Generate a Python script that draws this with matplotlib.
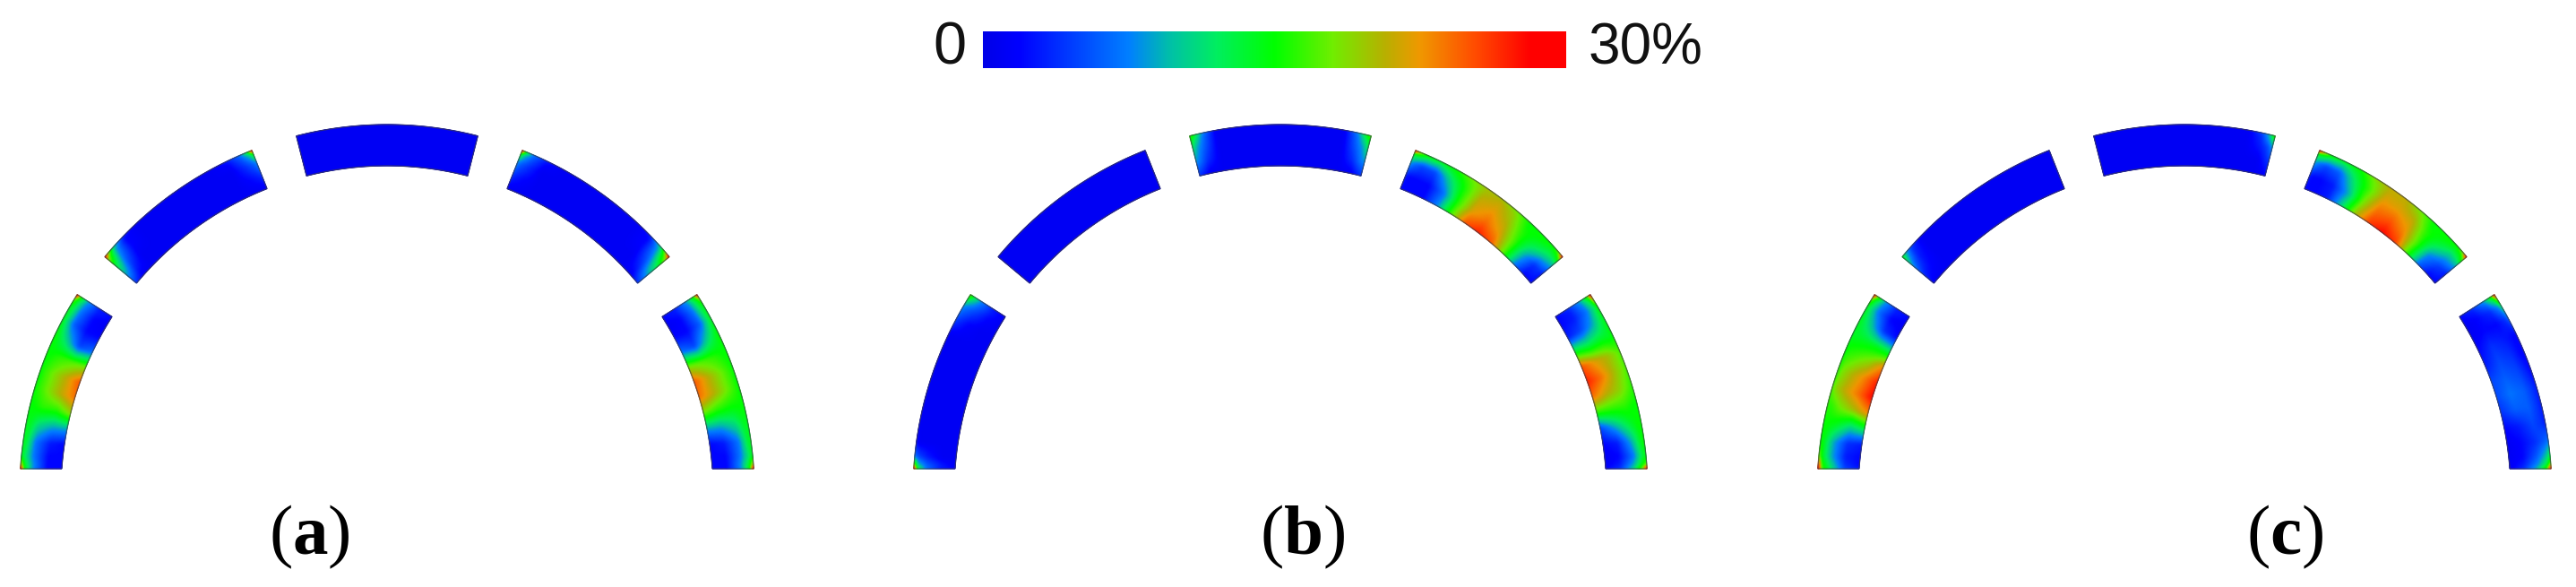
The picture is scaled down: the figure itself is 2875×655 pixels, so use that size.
import numpy as np
import matplotlib
matplotlib.use("Agg")
import matplotlib.pyplot as plt
from matplotlib.colors import LinearSegmentedColormap

plt.rcParams['mathtext.fontset'] = 'custom'
plt.rcParams['mathtext.bf'] = 'Liberation Serif:bold'
plt.rcParams['mathtext.rm'] = 'Liberation Serif'

# ---- data: strain (%) sampled along each arch segment -------------------
panel_labels = ["(a)", "(b)", "(c)"]
strain_min, strain_max = 0, 30
colorbar_labels = ["0", "30%"]

# sample positions: along the segment (left to right); each row of a table is one
# such position, its five values going across the segment from inner to outer
u_nodes = [0, .025, .07, .15, .25, .35, .45, .55, .65, .75, .85, .93, .975, 1]
v_nodes = [0, .35, .7, .92, 1]
B = [1, 1, 1, 1, 1]

a1 = [[2, 2, 8, 15, 30], [2, 2, 8, 14, 20], [2, 2, 7, 12, 14], [2, 3, 7, 13, 14],
      [9, 9, 11, 14, 14], [19, 16, 16, 15, 15], [24, 21, 18, 16, 15], [25, 21, 18, 16, 15],
      [18, 17, 16, 15, 15], [7, 5, 11, 14, 15], [2, 2, 6, 12, 14], [1, 2, 7, 13, 14],
      [2, 3, 8, 14, 18], [2, 3, 9, 17, 30]]
a2 = [[4, 9, 14, 20, 30], [3, 8, 12, 16, 20], [1, 4, 7, 9, 11], [1, 1, 2, 2, 3],
      B, B, B, B, B, B, [1, 1, 1, 2, 3], [1, 2, 4, 6, 7], [1, 3, 6, 10, 14], [1, 4, 8, 15, 30]]
a3 = [B] * 14
a4 = [[1, 4, 8, 15, 30], [1, 3, 6, 10, 14], [1, 2, 4, 6, 7], [1, 1, 1, 2, 3],
      B, B, B, B, B, B, [1, 1, 2, 2, 3], [1, 4, 7, 9, 11], [3, 8, 12, 16, 20], [4, 9, 14, 20, 30]]
a5 = [[2, 3, 9, 17, 30], [2, 3, 8, 14, 18], [1, 2, 7, 13, 14], [2, 2, 6, 12, 14],
      [7, 5, 11, 14, 15], [18, 17, 16, 15, 15], [25, 21, 18, 16, 15], [24, 21, 18, 16, 15],
      [18, 16, 15, 15, 15], [9, 9, 11, 14, 14], [2, 3, 7, 13, 14], [2, 2, 7, 12, 14],
      [2, 2, 8, 14, 20], [2, 2, 8, 15, 30]]

b1 = [[2, 3, 7, 14, 30], [1, 3, 6, 10, 18], [1, 1, 3, 5, 7], [1, 1, 1, 1, 2],
      B, B, B, B, B, B, [1, 1, 2, 4, 5], [1, 2, 5, 7, 8], [1, 3, 7, 11, 14], [1, 3, 8, 14, 18]]
b2 = [B] * 14
b3 = [[4, 8, 12, 15, 17], [3, 7, 9, 12, 14], [1, 4, 6, 7, 8], B,
      B, B, B, B, B, B, B, [1, 4, 6, 7, 8], [3, 7, 9, 12, 14], [4, 8, 12, 15, 17]]
b4 = [[2, 3, 9, 14, 30], [2, 2, 7, 14, 20], [2, 2, 5, 12, 15], [2, 2, 5, 11, 14],
      [8, 7, 11, 14, 15], [17, 16, 16, 17, 18], [25, 22, 21, 20, 20], [27, 24, 22, 21, 20],
      [25, 22, 20, 19, 18], [17, 17, 16, 15, 15], [7, 9, 13, 15, 15], [2, 4, 11, 14, 15],
      [2, 4, 10, 15, 18], [2, 3, 10, 18, 30]]
b5 = [[2, 4, 9, 17, 30], [2, 3, 8, 14, 22], [2, 3, 7, 12, 15], [3, 5, 9, 13, 14],
      [14, 13, 14, 14, 15], [25, 22, 20, 18, 17], [27, 24, 20, 18, 17], [24, 21, 19, 17, 16],
      [16, 16, 16, 15, 15], [5, 9, 13, 15, 15], [2, 3, 9, 14, 15], [1, 2, 7, 13, 14],
      [1, 3, 9, 15, 17], [2, 4, 11, 19, 30]]

c1 = [[3, 5, 12, 17, 30], [2, 4, 11, 16, 26], [2, 3, 9, 14, 18], [3, 4, 9, 14, 15],
      [13, 11, 14, 15, 15], [23, 20, 18, 16, 16], [28, 24, 21, 19, 17], [27, 23, 20, 18, 16],
      [23, 19, 17, 16, 15], [13, 14, 14, 14, 14], [2, 4, 10, 13, 14], [1, 2, 7, 12, 14],
      [2, 3, 8, 14, 18], [2, 3, 9, 18, 30]]
c2 = [[2, 4, 9, 13, 15], [1, 3, 6, 9, 10], [1, 2, 3, 4, 5], B,
      B, B, B, B, B, B, B, B, B, B]
c3 = [B, B, B, B, B, B, B, B, B, B, B,
      [1, 1, 3, 4, 5], [1, 3, 5, 9, 10], [2, 4, 8, 13, 17]]
c4 = [[2, 3, 9, 14, 30], [2, 2, 7, 14, 22], [2, 2, 5, 12, 15], [3, 3, 6, 11, 14],
      [11, 9, 12, 14, 15], [20, 18, 17, 18, 19], [26, 24, 22, 21, 21], [28, 25, 22, 21, 21],
      [26, 23, 21, 19, 18], [16, 17, 16, 15, 15], [6, 8, 13, 15, 15], [2, 5, 10, 14, 15],
      [2, 4, 10, 15, 19], [2, 3, 10, 19, 30]]
c5 = [[2, 4, 9, 17, 30], [2, 3, 7, 13, 20], [1, 2, 4, 8, 12], [1, 2, 2, 4, 6],
      [2, 4, 3, 2, 2], [3, 5, 4, 2, 2], [5, 6, 5, 3, 2], [5, 7, 6, 4, 3],
      [4, 6, 6, 4, 3], [2, 3, 5, 4, 3], [1, 2, 4, 6, 7], [1, 2, 6, 10, 13],
      [1, 3, 8, 13, 18], [1, 4, 10, 17, 30]]

segments = [[a1, a2, a3, a4, a5], [b1, b2, b3, b4, b5], [c1, c2, c3, c4, c5]]

# ---- layout (full-figure axes in pixels) ---------------------------------
W, H = 2875, 655
centres_x = [432, 1429, 2438]
centre_y = 549
base_y = 523
r_in, r_out = 364, 410
seg_angles = [(None, 147.5), (140.2, 111.6), (104.3, 75.7), (68.4, 39.8), (32.5, None)]
label_x = [345, 1454, 2550]
label_y = 599
cbar_box = (1097, 1748, 35, 76)

cmap = LinearSegmentedColormap.from_list("strain", [
    (0.00, "#0000e8"), (0.06, "#0000ff"), (0.25, "#0080ff"), (0.32, "#00c0a8"),
    (0.40, "#00ee60"), (0.50, "#00ff00"), (0.60, "#70ee00"), (0.69, "#b8b000"),
    (0.75, "#f09800"), (0.84, "#ff5000"), (0.94, "#ff0000"), (1.00, "#ff0000")])


def refine(table, nu=280, nv=56):
    z = np.asarray(table, float)
    uf, vf = np.linspace(0, 1, nu), np.linspace(0, 1, nv)
    z = np.array([np.interp(uf, u_nodes, col) for col in z.T])
    z = np.array([np.interp(vf, v_nodes, row) for row in z.T]).T
    for axis, n in ((1, 7), (0, 5)):
        pad = [(0, 0), (0, 0)]
        pad[axis] = (n // 2, n // 2)
        zp = np.pad(z, pad, mode="edge")
        z = np.apply_along_axis(lambda m: np.convolve(m, np.ones(n) / n, "valid"), axis, zp)
    return uf, vf, z


fig = plt.figure(figsize=(W / 100, H / 100), dpi=100, facecolor="white")
ax = fig.add_axes([0, 0, 1, 1])
ax.set_xlim(0, W)
ax.set_ylim(H, 0)
ax.axis("off")

for cx, panel, label, lx in zip(centres_x, segments, panel_labels, label_x):
    for (a0, a1_), table in zip(seg_angles, panel):
        uf, vf, z = refine(table)
        rr = r_in + (r_out - r_in) * vf
        base_angle = np.degrees(np.arcsin((centre_y - base_y) / rr))
        start = 180 - base_angle if a0 is None else np.full_like(rr, a0)
        end = base_angle if a1_ is None else np.full_like(rr, a1_)
        T = np.radians(start[:, None] + (end - start)[:, None] * uf[None, :])
        R = np.broadcast_to(rr[:, None], T.shape)
        X, Y = cx + R * np.cos(T), centre_y - R * np.sin(T)
        ax.pcolormesh(X, Y, z, shading="gouraud", cmap=cmap,
                      vmin=strain_min, vmax=strain_max, rasterized=True)
        ax.fill(np.r_[X[0], X[-1][::-1]], np.r_[Y[0], Y[-1][::-1]], fc="none",
                ec="#404048", lw=0.9, alpha=0.7, zorder=3)
    ax.text(lx, label_y, "(" + r"$\mathbf{" + label[1] + "}$" + ")", family="Liberation Serif",
            fontsize=57, ha="center", va="center", color="black")

x0, x1, y0, y1 = cbar_box
ax.imshow(np.linspace(strain_min, strain_max, 512)[None, :], extent=(x0, x1, y1, y0),
          cmap=cmap, vmin=strain_min, vmax=strain_max, aspect="auto", zorder=2)
ax.set_xlim(0, W)
ax.set_ylim(H, 0)
ax.text(x0 - 18, (y0 + y1) / 2 - 1, colorbar_labels[0], family="Liberation Sans", fontsize=48,
        ha="right", va="center", color="#111111")
ax.text(x1 + 25, (y0 + y1) / 2 - 1, colorbar_labels[1], family="Liberation Sans", fontsize=46,
        ha="left", va="center", color="#111111")

fig.savefig("out.png", dpi=100, facecolor="white")
